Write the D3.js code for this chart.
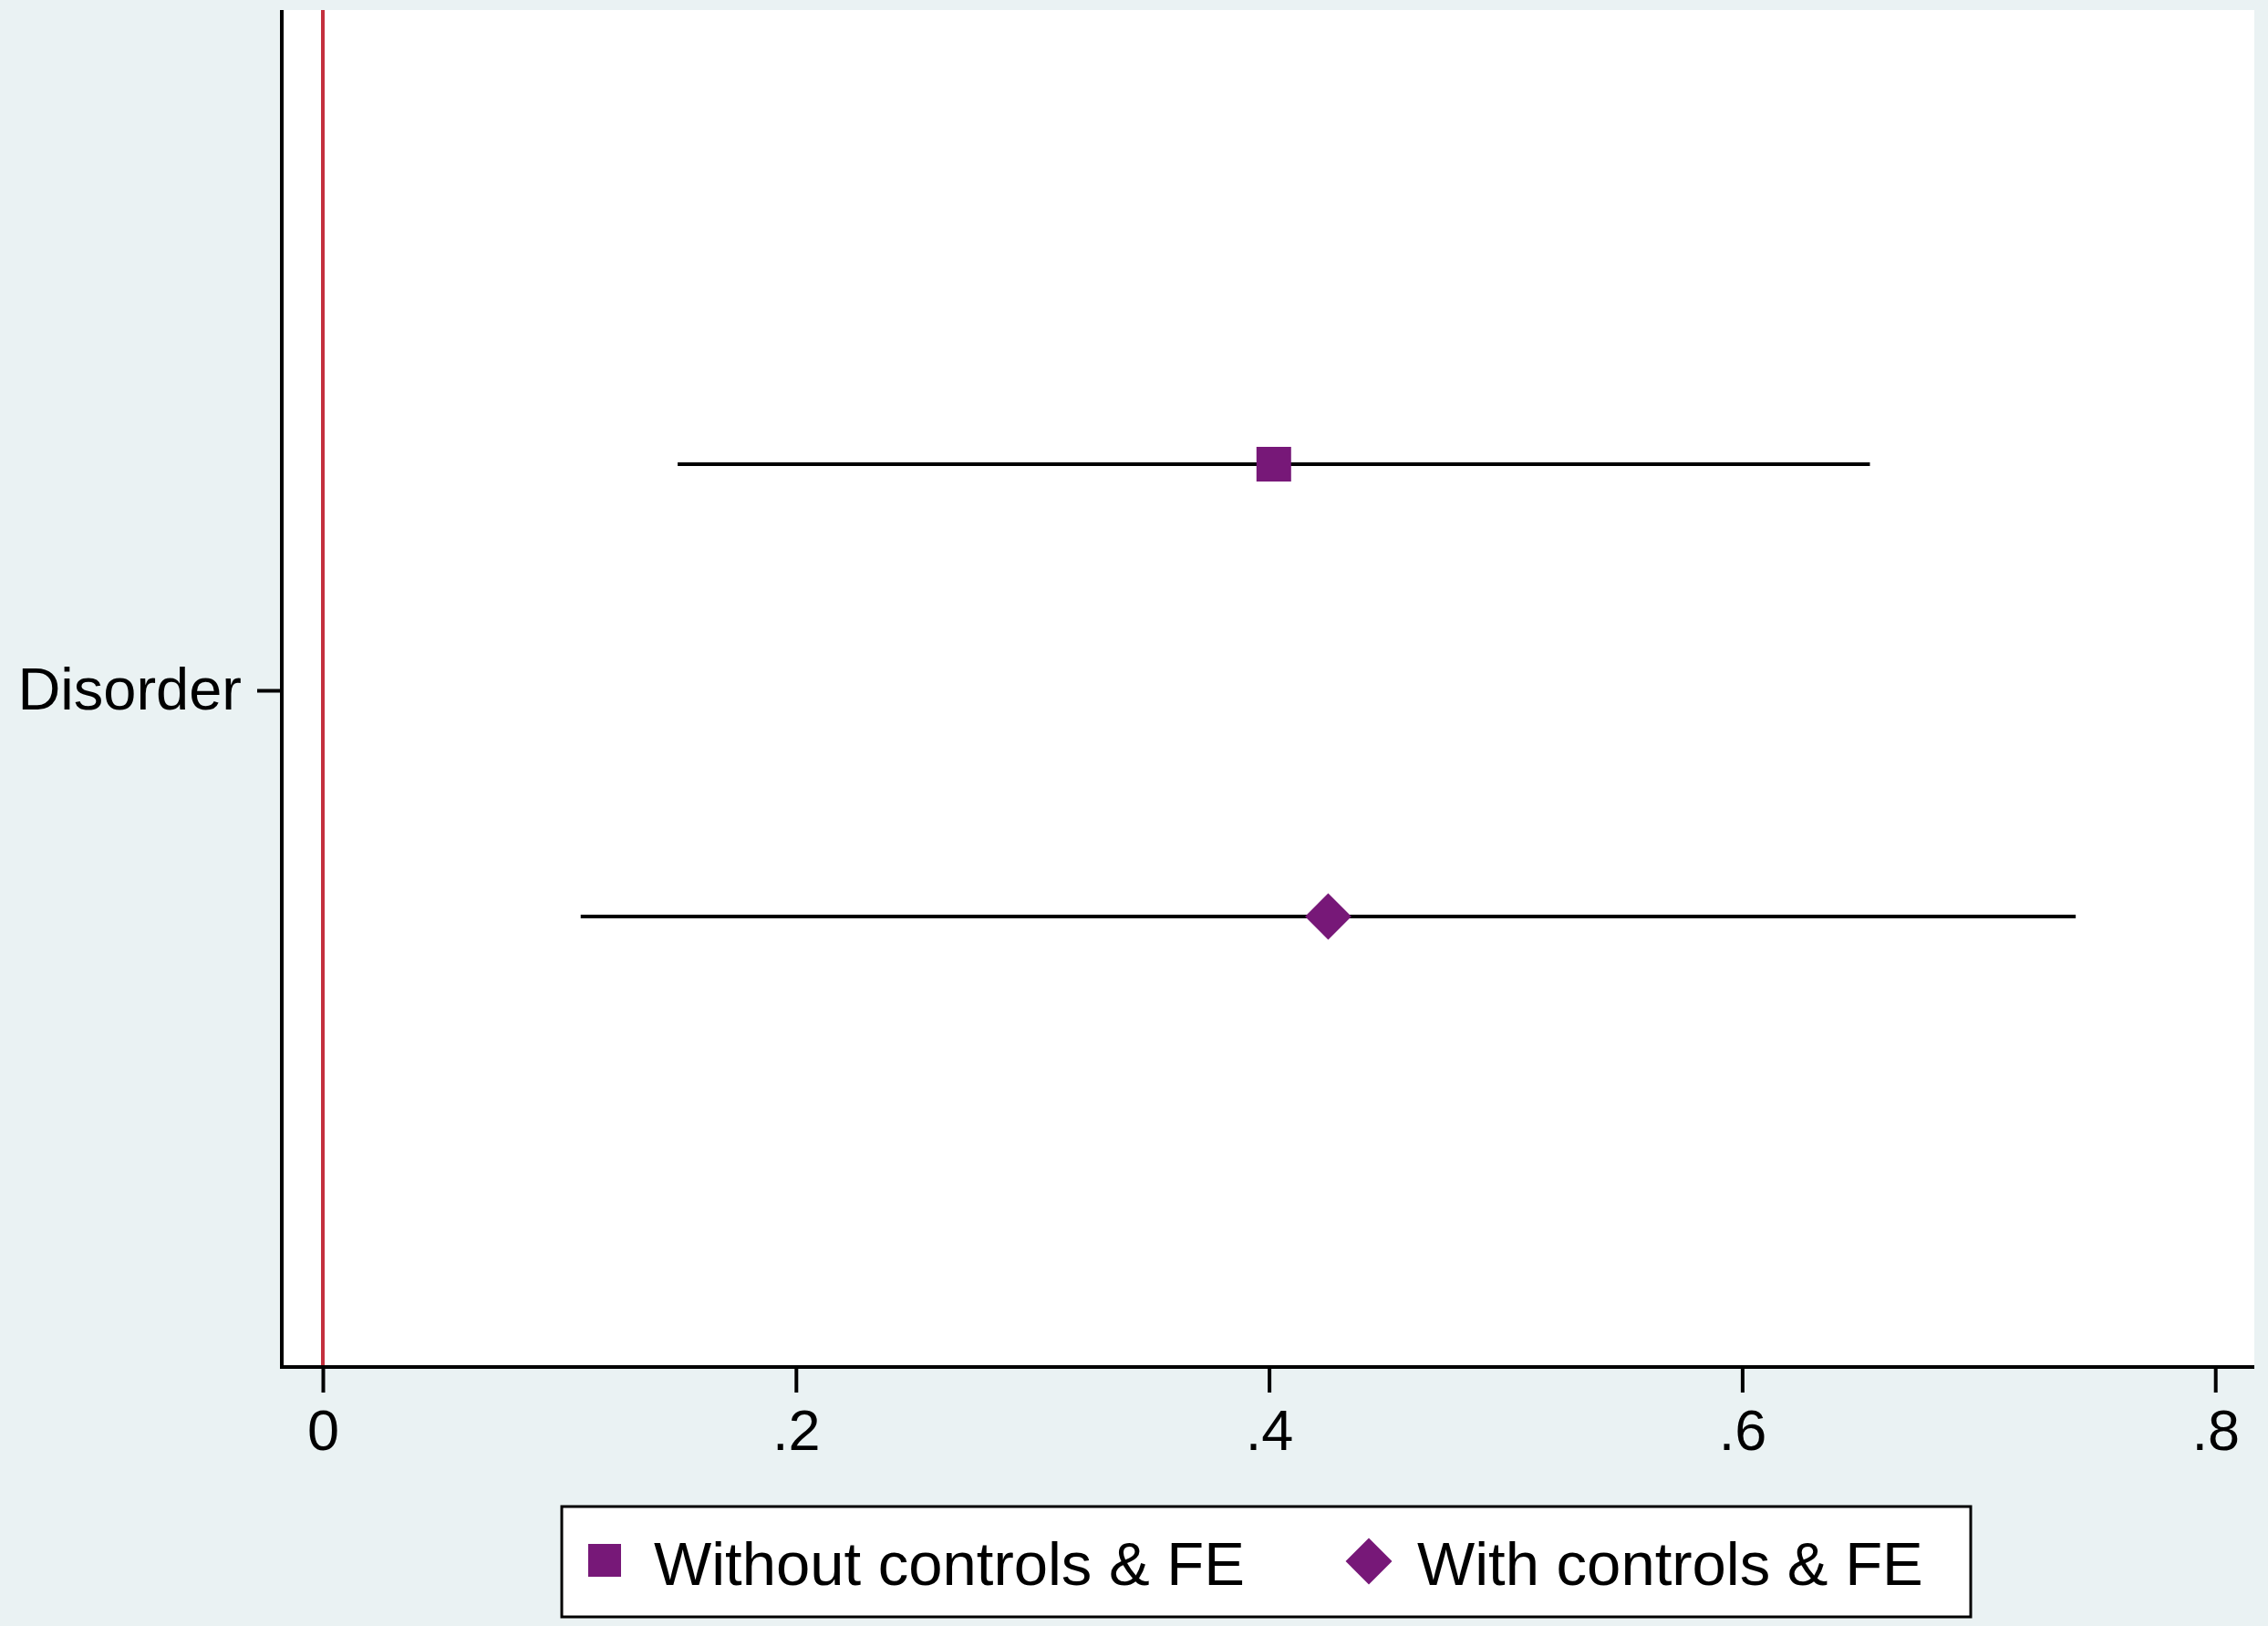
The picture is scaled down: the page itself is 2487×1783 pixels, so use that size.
<!DOCTYPE html>
<html>
<head>
<meta charset="utf-8">
<script src="https://cdn.jsdelivr.net/npm/d3@7"></script>
<style>
  html, body { margin: 0; padding: 0; background: #eaf2f3; }
  svg { display: block; }
  text { font-family: "Liberation Sans", Arial, sans-serif; fill: #000; }
</style>
</head>
<body>
<svg id="chart" width="2487" height="1783"></svg>
<script>
// ---- data ----
const categories = ["Disorder"];
const seriesNames = ["Without controls & FE", "With controls & FE"];
const seriesOffsets = [-0.5, 0.5];
const estimates = [0.402, 0.425];
const ciLow = [0.150, 0.109];
const ciHigh = [0.654, 0.741];
const xTicks = [0, 0.2, 0.4, 0.6, 0.8];
const xTickLabels = ["0", ".2", ".4", ".6", ".8"];
const refLine = 0;

// ---- layout ----
const W = 2487, H = 1783;
const plot = { left: 309, right: 2472, top: 11, bottom: 1499 };
const markerColor = "#771878";

const svg = d3.select("#chart");
svg.append("rect").attr("width", W).attr("height", H).attr("fill", "#eaf2f3");
svg.append("rect")
  .attr("x", plot.left).attr("y", plot.top)
  .attr("width", plot.right - plot.left).attr("height", plot.bottom - plot.top)
  .attr("fill", "#ffffff");

const x = d3.scaleLinear().domain([-0.01735, 0.8165]).range([plot.left, plot.right]);
const y = d3.scaleLinear().domain([-1.5, 1.5]).range([plot.top + 2, plot.bottom + 2]);
const catPos = d3.scaleOrdinal().domain(categories).range([0]);

// reference line
svg.append("line")
  .attr("x1", x(refLine)).attr("x2", x(refLine))
  .attr("y1", plot.top).attr("y2", plot.bottom)
  .attr("stroke", "#c4303e").attr("stroke-width", 4);

// x axis
const xAxis = d3.axisBottom(x)
  .tickValues(xTicks)
  .tickFormat((d, i) => xTickLabels[i])
  .tickSize(28)
  .tickPadding(18);
const gx = svg.append("g").attr("transform", `translate(0,${plot.bottom})`).call(xAxis);
gx.select(".domain").remove();
gx.selectAll(".tick line").attr("stroke", "#000").attr("stroke-width", 4);
gx.selectAll(".tick text")
  .attr("font-size", 63)
  .attr("font-family", "'Liberation Sans', Arial, sans-serif")
  .attr("fill", "#000");
svg.append("line")
  .attr("x1", plot.left - 2).attr("x2", plot.right)
  .attr("y1", plot.bottom).attr("y2", plot.bottom)
  .attr("stroke", "#000").attr("stroke-width", 4);

// y axis
const yAxis = d3.axisLeft(y)
  .tickValues(categories.map(c => catPos(c)))
  .tickFormat((d, i) => categories[i])
  .tickSize(27)
  .tickPadding(17);
const gy = svg.append("g").attr("transform", `translate(${plot.left},0)`).call(yAxis);
gy.select(".domain").remove();
gy.selectAll(".tick line").attr("stroke", "#000").attr("stroke-width", 4);
gy.selectAll(".tick text")
  .attr("font-size", 65)
  .attr("font-family", "'Liberation Sans', Arial, sans-serif")
  .attr("fill", "#000");
svg.append("line")
  .attr("x1", plot.left).attr("x2", plot.left)
  .attr("y1", plot.top).attr("y2", plot.bottom + 2)
  .attr("stroke", "#000").attr("stroke-width", 4);

// error bars
const rows = seriesNames.map((s, i) => ({
  name: s, est: estimates[i], lo: ciLow[i], hi: ciHigh[i],
  yv: catPos(categories[0]) + seriesOffsets[i], idx: i
}));
svg.append("g").selectAll("line").data(rows).join("line")
  .attr("x1", d => x(d.lo)).attr("x2", d => x(d.hi))
  .attr("y1", d => y(d.yv)).attr("y2", d => y(d.yv))
  .attr("stroke", "#000").attr("stroke-width", 4);

// markers: square, and square rotated 45deg (diamond)
const rotations = [0, 45];
const symbolSizes = [38 * 38, 36 * 36];
svg.append("g").selectAll("path").data(rows).join("path")
  .attr("transform", d => `translate(${x(d.est)},${y(d.yv)}) rotate(${rotations[d.idx]})`)
  .attr("d", d => d3.symbol().type(d3.symbolSquare).size(symbolSizes[d.idx])())
  .attr("fill", markerColor);

// legend
const lg = svg.append("g");
lg.append("rect")
  .attr("x", 616).attr("y", 1652).attr("width", 1545).attr("height", 121)
  .attr("fill", "#fff").attr("stroke", "#000").attr("stroke-width", 3);
const legendItems = [
  { mx: 663, my: 1711, tx: 717, size: 36 * 36 },
  { mx: 1501, my: 1712, tx: 1554, size: 36 * 36 }
];
legendItems.forEach((it, i) => {
  lg.append("path")
    .attr("transform", `translate(${it.mx},${it.my}) rotate(${rotations[i]})`)
    .attr("d", d3.symbol().type(d3.symbolSquare).size(it.size)())
    .attr("fill", markerColor);
  lg.append("text")
    .attr("x", it.tx).attr("y", 1738)
    .attr("font-size", 67)
    .text(seriesNames[i]);
});
</script>
</body>
</html>
